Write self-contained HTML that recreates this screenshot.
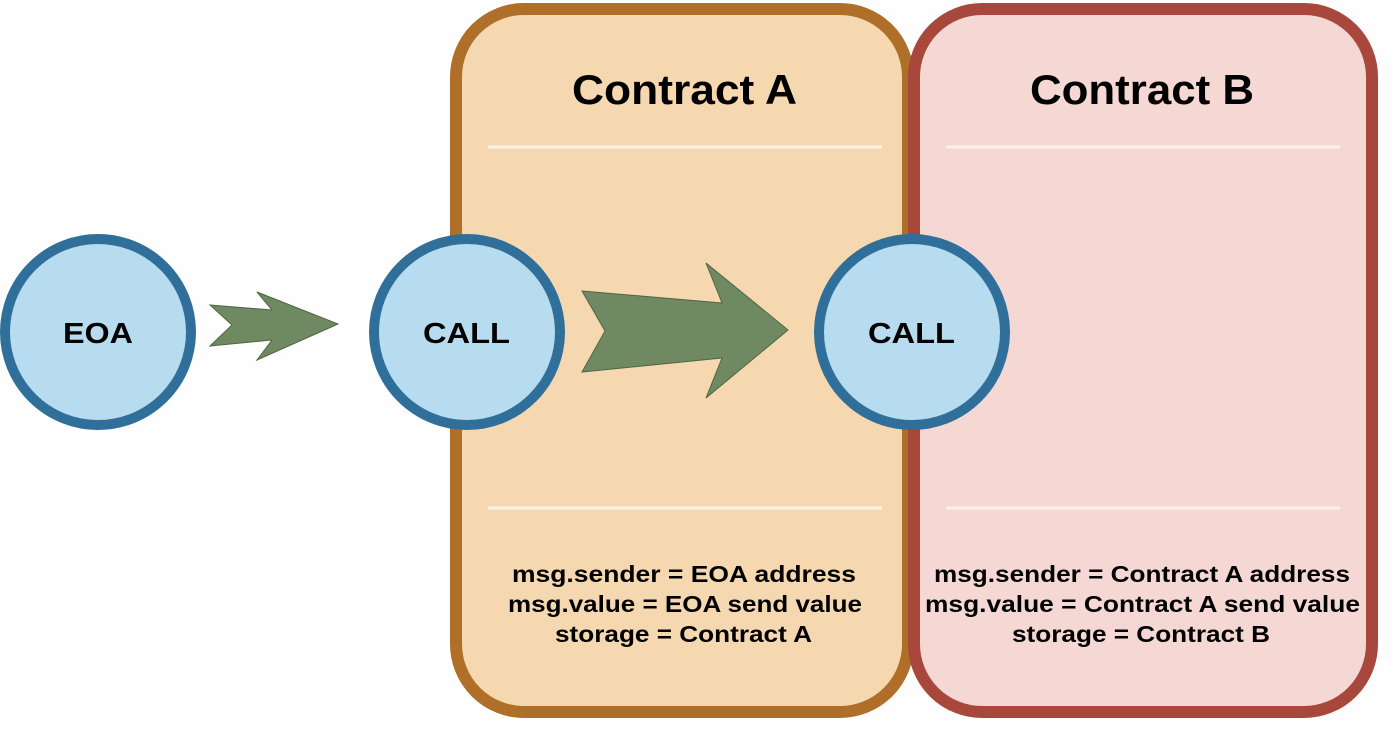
<!DOCTYPE html>
<html><head><meta charset="utf-8"><style>
html,body{margin:0;padding:0;background:#fff;}
svg{display:block;font-family:"Liberation Sans",Arial,sans-serif;font-weight:bold;}
</style></head><body>
<svg width="1400" height="732" viewBox="0 0 1400 732" xmlns="http://www.w3.org/2000/svg">
<rect x="0" y="0" width="1400" height="732" fill="#fefefe"/>
<rect x="456" y="9" width="452" height="703" rx="68" fill="#f5d8b0" stroke="#b06f28" stroke-width="12"/>
<rect x="914" y="9" width="458" height="703" rx="68" fill="#f5d7d3" stroke="#a8483c" stroke-width="12"/>
<line x1="488" y1="147" x2="882" y2="147" stroke="#fbf3ea" stroke-width="3"/>
<line x1="488" y1="508" x2="882" y2="508" stroke="#fbf3ea" stroke-width="3"/>
<line x1="946" y1="147" x2="1340" y2="147" stroke="#fbf0ee" stroke-width="3"/>
<line x1="946" y1="508" x2="1340" y2="508" stroke="#fbf0ee" stroke-width="3"/>
<g font-size="42" fill="#000" lengthAdjust="spacingAndGlyphs">
<text x="572" y="104" textLength="225" lengthAdjust="spacingAndGlyphs">Contract A</text>
<text x="1030" y="104" textLength="224" lengthAdjust="spacingAndGlyphs">Contract B</text>
</g>
<g font-size="23" fill="#000">
<text x="512" y="582" textLength="344" lengthAdjust="spacingAndGlyphs">msg.sender = EOA address</text>
<text x="508" y="612" textLength="354" lengthAdjust="spacingAndGlyphs">msg.value = EOA send value</text>
<text x="555" y="642" textLength="257" lengthAdjust="spacingAndGlyphs">storage = Contract A</text>
<text x="934" y="582" textLength="416" lengthAdjust="spacingAndGlyphs">msg.sender = Contract A address</text>
<text x="925" y="612" textLength="435" lengthAdjust="spacingAndGlyphs">msg.value = Contract A send value</text>
<text x="1012" y="642" textLength="258" lengthAdjust="spacingAndGlyphs">storage = Contract B</text>
</g>
<polygon points="210,305 272,310 257,292 338,324 257,360 272,340 210,346 232,325" fill="#6f8a62" stroke="#4f6642" stroke-width="1"/>
<polygon points="582,291 722,303 706,263 788,330 706,398 722,358 582,372 605,331" fill="#6f8a62" stroke="#4f6642" stroke-width="1"/>
<g fill="#b7dcef" stroke="#2f6f9a" stroke-width="10">
<circle cx="98" cy="332" r="93"/>
<circle cx="467" cy="332" r="93"/>
<circle cx="912" cy="332" r="93"/>
</g>
<g font-size="29" fill="#000">
<text x="63" y="343" textLength="70" lengthAdjust="spacingAndGlyphs">EOA</text>
<text x="423" y="343" textLength="87" lengthAdjust="spacingAndGlyphs">CALL</text>
<text x="868" y="343" textLength="87" lengthAdjust="spacingAndGlyphs">CALL</text>
</g>
</svg>
</body></html>
